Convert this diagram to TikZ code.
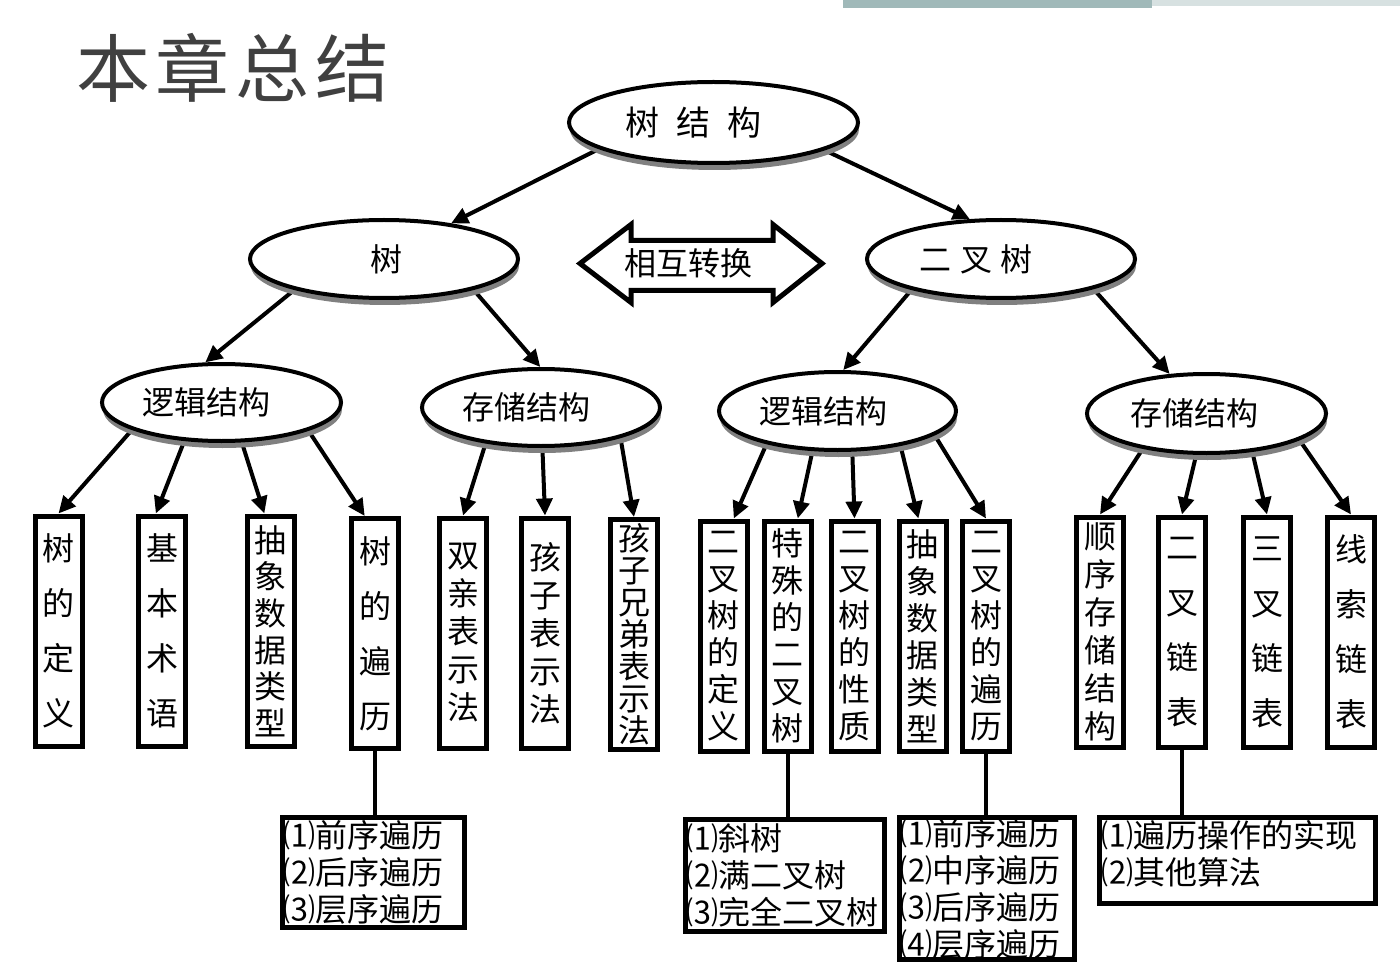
\documentclass[tikz,border=0pt]{standalone}
\usepackage{fontspec}
\setmainfont{Noto Sans CJK SC}
\usetikzlibrary{shapes.geometric,shadows,arrows.meta,backgrounds}
\definecolor{titlegray}{RGB}{64,64,64}
\definecolor{shadowgray}{RGB}{128,128,128}
\definecolor{barA}{RGB}{160,185,185}
\definecolor{barB}{RGB}{215,225,225}
\tikzset{
  ell/.style={ellipse, draw=black, line width=4pt, fill=white, inner sep=0pt,
    drop shadow={shadow xshift=1pt, shadow yshift=-7pt, fill=shadowgray, opacity=1}},
  vb/.style={rectangle, draw=black, line width=5pt, fill=white, inner sep=0pt,
    minimum width=47pt, minimum height=230pt, align=center,
    font={\fontsize{32}{#1}\selectfont}},
  lb/.style={rectangle, draw=black, line width=5pt, fill=white, inner xsep=1pt, inner ysep=0pt,
    align=left, font={\fontsize{32}{37}\selectfont}},
  arr/.style={line width=4pt, -{Triangle[length=17pt,width=16pt]}},
  conn/.style={line width=4pt},
  titletext/.style={font={\fontsize{74}{80}\selectfont}, text=titlegray, inner sep=0pt}
}
\begin{document}
\begin{tikzpicture}[x=1pt,y=-1pt]
\useasboundingbox (0,0) rectangle (1400,968);
\begin{pgfonlayer}{background}
\fill[white] (0,0) rectangle (1400,968);
\fill[barA] (843,0) rectangle (1152,8);
\fill[barB] (1152,0) rectangle (1400,6);
\end{pgfonlayer}

% title
\node[titletext] (title) at (233,68) {本\hspace{6pt}章\hspace{6pt}总\hspace{6pt}结};

% ellipses
\node[ell, minimum width=289pt, minimum height=81pt, font={\fontsize{34}{40}\selectfont}]
  (root) at (713.5,122.5) {树\hspace{17pt}结\hspace{17pt}构\hspace{40pt}\mbox{}};
\node[ell, minimum width=268pt, minimum height=78pt, font={\fontsize{32}{38}\selectfont}]
  (t) at (384,259) {\mbox{}\hspace{4pt}树};
\node[ell, minimum width=268pt, minimum height=78pt, font={\fontsize{32}{38}\selectfont}]
  (bt) at (1001,259) {二\hspace{9pt}叉\hspace{9pt}树\hspace{50pt}\mbox{}};
\node[ell, minimum width=239pt, minimum height=77pt, font={\fontsize{32}{38}\selectfont}]
  (l1) at (221.5,402.5) {逻辑结构\hspace{30pt}\mbox{}};
\node[ell, minimum width=238pt, minimum height=77pt, font={\fontsize{32}{38}\selectfont}]
  (s1) at (541,407.5) {存储结构\hspace{30pt}\mbox{}};
\node[ell, minimum width=237pt, minimum height=78pt, font={\fontsize{32}{38}\selectfont}]
  (l2) at (837.5,411) {逻辑结构\hspace{28pt}\mbox{}};
\node[ell, minimum width=239pt, minimum height=79pt, font={\fontsize{32}{38}\selectfont}]
  (s2) at (1206.5,413.5) {存储结构\hspace{24pt}\mbox{}};

% double arrow
\draw[line width=5pt, fill=white, line join=miter]
  (580,263.5) -- (631,224.5) -- (631,240.5) -- (773,240.5) -- (773,224.5) -- (822,263.5)
  -- (773,302.5) -- (773,290.5) -- (631,290.5) -- (631,302.5) -- cycle;
\node[font={\fontsize{32}{38}\selectfont}, inner sep=0pt] (conv) at (688,263) {相互转换};

% vertical boxes
\node[vb=55] (b1) at (58.5,631) {树\\的\\定\\义};
\node[vb=55] (b2) at (162,631) {基\\本\\术\\语};
\node[vb=36.6] (b3) at (270.5,631) {抽\\象\\数\\据\\类\\型};
\node[vb=55] (b4) at (375,633.5) {树\\的\\遍\\历};
\node[vb=38] (b5) at (463,633) {双\\亲\\表\\示\\法};
\node[vb=38] (b6) at (545,633) {孩\\子\\表\\示\\法};
\node[vb=32] (b7) at (634,634.5) {孩\\子\\兄\\弟\\表\\示\\法};
\node[vb=37] (b8) at (723.5,636) {二\\叉\\树\\的\\定\\义};
\node[vb=37] (b9) at (787.5,636) {特\\殊\\的\\二\\叉\\树};
\node[vb=37] (b10) at (854.5,636) {二\\叉\\树\\的\\性\\质};
\node[vb=37] (b11) at (922.5,636) {抽\\象\\数\\据\\类\\型};
\node[vb=37] (b12) at (986,636) {二\\叉\\树\\的\\遍\\历};
\node[vb=38] (b13) at (1100,632) {顺\\序\\存\\储\\结\\构};
\node[vb=55] (b14) at (1182,632) {二\\叉\\链\\表};
\node[vb=55] (b15) at (1267,632) {三\\叉\\链\\表};
\node[vb=55] (b16) at (1351,632) {线\\索\\链\\表};

% bottom boxes
\node[lb, minimum width=182pt, minimum height=110pt, text width=180pt]
  (B1) at (373.5,872.5) {⑴前序遍历\\⑵后序遍历\\⑶层序遍历};
\node[lb, minimum width=199pt, minimum height=112pt, text width=197pt]
  (B2) at (785,875.5) {⑴斜树\\⑵满二叉树\\⑶完全二叉树};
\node[lb, minimum width=175pt, minimum height=142pt, text width=173pt]
  (B3) at (987,888.5) {⑴前序遍历\\⑵中序遍历\\⑶后序遍历\\⑷层序遍历};
\node[rectangle, draw=black, line width=5pt, fill=white, inner sep=1pt,
  minimum width=276pt, minimum height=86pt, font={\fontsize{32}{37}\selectfont}]
  (B4) at (1237.5,860.5) {\parbox[c][80pt][t]{272pt}{\raggedright ⑴遍历操作的实现\\⑵其他算法}};

% connectors
\begin{pgfonlayer}{background}
\draw[arr] (root.193) -- (t.28);
\draw[arr] (root.346) -- (bt.128);
\draw[arr] (t.199) -- (l1.112);
\draw[arr] (t.341) -- (s1.91);
\draw[arr] (bt.199) -- (l2.82);
\draw[arr] (bt.342) -- (s2.133);
\draw[arr] (l1.197) -- (b1.north);
\draw[arr] (l1.226) -- (b2.93);
\draw[arr] (l1.297) -- (b3.93);
\draw[arr] (l1.342) -- (b4.95);
\draw[arr] (s1.213) -- (b5.north);
\draw[arr] (s1.272) -- (b6.north);
\draw[arr] (s1.339) -- (b7.north);
\draw[arr] (l2.205) -- (b8.85);
\draw[arr] (l2.238) -- (b9.85);
\draw[arr] (l2.290) -- (b10.north);
\draw[arr] (l2.331) -- (b11.92);
\draw[arr] (l2.346) -- (b12.north);
\draw[arr] (s2.209) -- (b13.north);
\draw[arr] (s2.256) -- (b14.north);
\draw[arr] (s2.320) -- (b15.north);
\draw[arr] (s2.344) -- (b16.north);
\draw[conn] (b4.south) -- (b4.south |- B1.north);
\draw[conn] (b9.south) -- (b9.south |- B2.north);
\draw[conn] (b12.south) -- (b12.south |- B3.north);
\draw[conn] (b14.south) -- (b14.south |- B4.north);
\end{pgfonlayer}
\end{tikzpicture}
\end{document}
